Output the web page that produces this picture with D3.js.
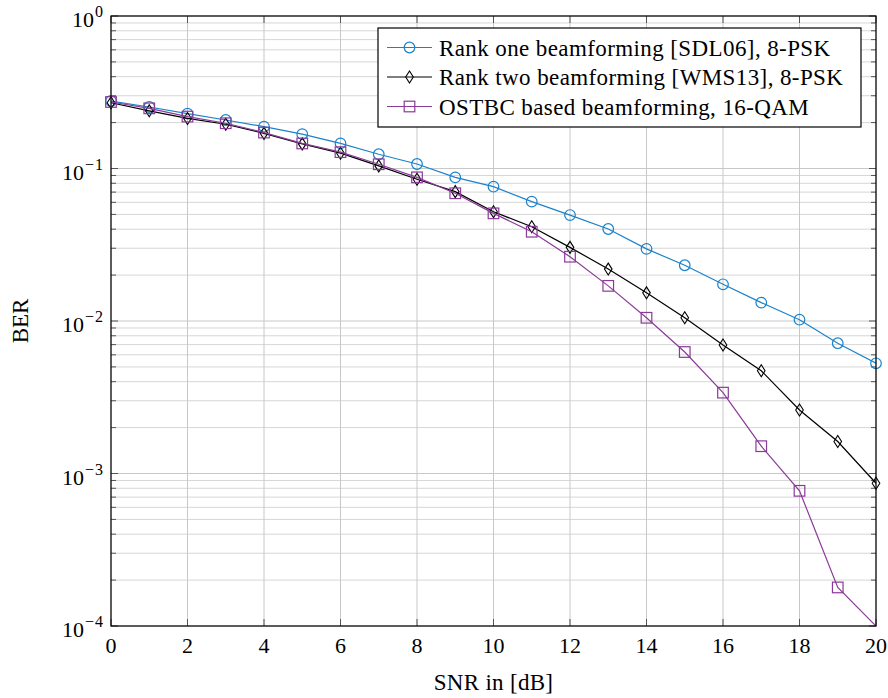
<!DOCTYPE html>
<html>
<head>
<meta charset="utf-8">
<script src="https://cdn.jsdelivr.net/npm/d3@7"></script>
<style>
  html, body { margin: 0; padding: 0; background: #fff; }
  svg { display: block; }
</style>
</head>
<body>
<svg id="chart" width="888" height="698"></svg>
<script>
// SNR axis (dB)
const snr = [0, 1, 2, 3, 4, 5, 6, 7, 8, 9, 10, 11, 12, 13, 14, 15, 16, 17, 18, 19, 20];

// Bit error rates per scheme
const berRankOne = [0.277, 0.253, 0.229, 0.208, 0.188, 0.168, 0.146, 0.124, 0.107, 0.0875, 0.076,
                    0.0606, 0.0495, 0.0401, 0.0297, 0.0232, 0.0174, 0.0132, 0.0102, 0.00715, 0.00528];
const berRankTwo = [0.270, 0.239, 0.213, 0.195, 0.170, 0.145, 0.126, 0.104, 0.085, 0.0705, 0.052,
                    0.0415, 0.0304, 0.0219, 0.0153, 0.0105, 0.00696, 0.00472, 0.00261, 0.00162, 0.000863];
const berOstbc   = [0.273, 0.248, 0.219, 0.198, 0.172, 0.146, 0.128, 0.1066, 0.0875, 0.0688, 0.0508,
                    0.0385, 0.0264, 0.0170, 0.0105, 0.00626, 0.00339, 0.00151, 0.00077, 0.000179, 0.0001];

const seriesNames = [
  "Rank one beamforming [SDL06], 8-PSK",
  "Rank two beamforming [WMS13], 8-PSK",
  "OSTBC based beamforming, 16-QAM"
];

// Axis ticks
const xTicks = [0, 2, 4, 6, 8, 10, 12, 14, 16, 18, 20];
const yTickExponents = [0, -1, -2, -3, -4];

const xLabel = "SNR in [dB]";
const yLabel = "BER";

const FONT = "'Liberation Serif', 'DejaVu Serif', serif";

const svg = d3.select("#chart");
const W = 888, H = 698;
const plot = { left: 111, right: 876, top: 16, bottom: 626 };

const x = d3.scaleLinear().domain([0, 20]).range([plot.left, plot.right]);
const y = d3.scaleLog().domain([1e-4, 1]).range([plot.bottom, plot.top]);

const series = [
  { name: seriesNames[0], values: berRankOne, color: "#1a82cc", marker: "circle" },
  { name: seriesNames[1], values: berRankTwo, color: "#000000", marker: "diamond" },
  { name: seriesNames[2], values: berOstbc,   color: "#8a3a98", marker: "square" }
];

svg.append("rect").attr("width", W).attr("height", H).attr("fill", "#fff");

svg.append("defs").append("clipPath").attr("id", "plotClip")
  .append("rect")
  .attr("x", plot.left).attr("y", plot.top)
  .attr("width", plot.right - plot.left).attr("height", plot.bottom - plot.top);

// Grid: minor log lines, then major lines
const minorVals = [];
for (let e = -4; e < 0; e++) for (let m = 2; m <= 9; m++) minorVals.push(m * Math.pow(10, e));
const majorVals = yTickExponents.map(e => Math.pow(10, e));

const grid = svg.append("g");
grid.selectAll("line.ymin").data(minorVals).join("line")
  .attr("x1", plot.left).attr("x2", plot.right)
  .attr("y1", d => y(d)).attr("y2", d => y(d))
  .attr("stroke", "#d6d6d6").attr("stroke-width", 1);
grid.selectAll("line.ymaj").data(majorVals).join("line")
  .attr("x1", plot.left).attr("x2", plot.right)
  .attr("y1", d => y(d)).attr("y2", d => y(d))
  .attr("stroke", "#c8c8c8").attr("stroke-width", 1);
grid.selectAll("line.xmaj").data(xTicks).join("line")
  .attr("x1", d => x(d)).attr("x2", d => x(d))
  .attr("y1", plot.top).attr("y2", plot.bottom)
  .attr("stroke", "#c8c8c8").attr("stroke-width", 1);

// Inward ticks on all four sides
const ticks = svg.append("g").attr("stroke", "#555").attr("stroke-width", 1);
xTicks.forEach(t => {
  ticks.append("line").attr("x1", x(t)).attr("x2", x(t)).attr("y1", plot.bottom).attr("y2", plot.bottom - 7);
  ticks.append("line").attr("x1", x(t)).attr("x2", x(t)).attr("y1", plot.top).attr("y2", plot.top + 7);
});
minorVals.forEach(v => {
  ticks.append("line").attr("x1", plot.left).attr("x2", plot.left + 5).attr("y1", y(v)).attr("y2", y(v));
  ticks.append("line").attr("x1", plot.right).attr("x2", plot.right - 5).attr("y1", y(v)).attr("y2", y(v));
});
majorVals.forEach(v => {
  ticks.append("line").attr("x1", plot.left).attr("x2", plot.left + 7).attr("y1", y(v)).attr("y2", y(v));
  ticks.append("line").attr("x1", plot.right).attr("x2", plot.right - 7).attr("y1", y(v)).attr("y2", y(v));
});

// Marker shapes
function drawMarker(g, type, cx, cy, color) {
  if (type === "circle") {
    g.append("circle").attr("cx", cx).attr("cy", cy).attr("r", 5.3)
      .attr("fill", "none").attr("stroke", color).attr("stroke-width", 1.2);
  } else if (type === "square") {
    g.append("rect").attr("x", cx - 5.3).attr("y", cy - 5.3).attr("width", 10.6).attr("height", 10.6)
      .attr("fill", "none").attr("stroke", color).attr("stroke-width", 1.2);
  } else if (type === "diamond") {
    g.append("path")
      .attr("d", `M${cx},${cy - 6} L${cx + 3.8},${cy} L${cx},${cy + 6} L${cx - 3.8},${cy} Z`)
      .attr("fill", "none").attr("stroke", color).attr("stroke-width", 1.1);
  }
}

// Series lines and markers
const line = d3.line().x(d => x(d[0])).y(d => y(d[1]));
const dataLayer = svg.append("g");
series.forEach(s => {
  const pts = snr.map((v, i) => [v, s.values[i]]);
  dataLayer.append("path").datum(pts)
    .attr("d", line)
    .attr("fill", "none").attr("stroke", s.color).attr("stroke-width", 1.2)
    .attr("clip-path", "url(#plotClip)");
  const mg = dataLayer.append("g");
  pts.filter(p => p[1] > y.domain()[0]).forEach(p => drawMarker(mg, s.marker, x(p[0]), y(p[1]), s.color));
});

// Frame
svg.append("rect")
  .attr("x", plot.left).attr("y", plot.top)
  .attr("width", plot.right - plot.left).attr("height", plot.bottom - plot.top)
  .attr("fill", "none").attr("stroke", "#000").attr("stroke-width", 1.2);

// Tick labels
const fs = 22;
svg.append("g").selectAll("text").data(xTicks).join("text")
  .attr("x", d => x(d)).attr("y", plot.bottom + 27)
  .attr("text-anchor", "middle").attr("font-size", fs).attr("font-family", FONT)
  .text(d => d);

const yl = svg.append("g");
yTickExponents.forEach(e => {
  const t = yl.append("text")
    .attr("x", plot.left - 7).attr("y", y(Math.pow(10, e)) + 11)
    .attr("text-anchor", "end").attr("font-size", fs).attr("font-family", FONT);
  t.append("tspan").text("10");
  t.append("tspan").attr("dy", -10).attr("dx", 1).attr("font-size", 16)
    .attr("letter-spacing", 1).text(e === 0 ? "0" : "\u2212" + (-e));
});

// Axis titles
svg.append("text")
  .attr("x", (plot.left + plot.right) / 2).attr("y", 690)
  .attr("text-anchor", "middle").attr("font-size", 23).attr("letter-spacing", 0.3)
  .attr("font-family", FONT)
  .text(xLabel);
svg.append("text")
  .attr("transform", `translate(28, ${(plot.top + plot.bottom) / 2}) rotate(-90)`)
  .attr("text-anchor", "middle").attr("font-size", 23).attr("font-family", FONT)
  .text(yLabel);

// Legend
const legend = { x: 378, y: 28, w: 483, h: 99, rowH: 29.5, firstRow: 47.5 };
const lg = svg.append("g");
lg.append("rect")
  .attr("x", legend.x).attr("y", legend.y).attr("width", legend.w).attr("height", legend.h)
  .attr("fill", "#fff").attr("stroke", "#000").attr("stroke-width", 1.2);
series.forEach((s, i) => {
  const cy = legend.firstRow + i * legend.rowH;
  lg.append("line").attr("x1", legend.x + 9).attr("x2", legend.x + 54)
    .attr("y1", cy).attr("y2", cy).attr("stroke", s.color).attr("stroke-width", 1.2);
  drawMarker(lg, s.marker, legend.x + 31.5, cy, s.color);
  lg.append("text").attr("x", legend.x + 61).attr("y", cy + 8)
    .attr("font-size", 23).attr("letter-spacing", 0.4)
    .attr("font-family", FONT).text(s.name);
});
</script>
</body>
</html>
